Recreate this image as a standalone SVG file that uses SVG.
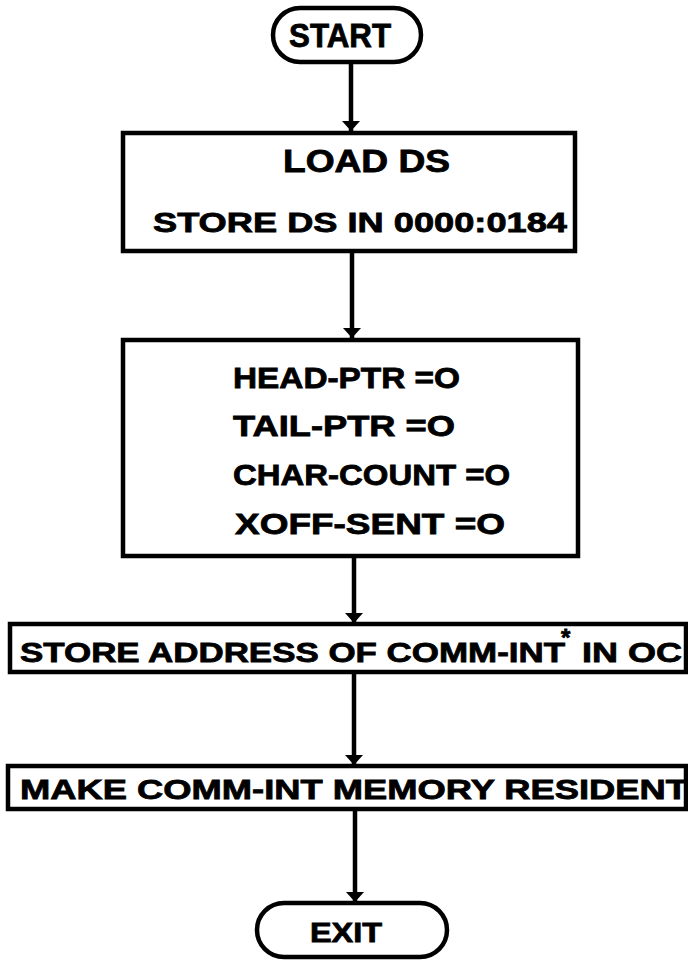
<svg xmlns="http://www.w3.org/2000/svg" width="688" height="965" viewBox="0 0 688 965">
<defs>
<marker id="ah" viewBox="0 0 10 18" refX="10" refY="9" markerWidth="4.4" markerHeight="4" orient="auto" markerUnits="strokeWidth">
<path d="M0,0 L10,9 L0,18 Z" fill="#000"/>
</marker>
</defs>
<style>
.box{fill:#fff;stroke:#000;stroke-width:4.5;stroke-linejoin:miter}
.t{font-family:"Liberation Sans","DejaVu Sans",sans-serif;font-weight:bold;fill:#000;stroke:#000;stroke-width:0.8;text-anchor:start}
.c{stroke:#000;stroke-width:4.5;fill:none}
</style>
<rect width="688" height="965" fill="#fff"/>
<g id="connectors">
<line class="c" x1="351" y1="63" x2="351" y2="131" marker-end="url(#ah)"/>
<line class="c" x1="352" y1="252" x2="352" y2="338" marker-end="url(#ah)"/>
<line class="c" x1="354" y1="557" x2="354" y2="623" marker-end="url(#ah)"/>
<line class="c" x1="354" y1="673" x2="354" y2="765" marker-end="url(#ah)"/>
<line class="c" x1="355" y1="810" x2="355" y2="902" marker-end="url(#ah)"/>
</g>
<g id="start">
<rect class="box" x="273" y="8" width="148" height="54" rx="27"/>
<text class="t" x="289" y="47" font-size="33" textLength="102" lengthAdjust="spacingAndGlyphs">START</text>
</g>
<g id="load">
<rect class="box" x="123" y="133" width="452" height="118"/>
<text class="t" x="283" y="172" font-size="31" textLength="167" lengthAdjust="spacingAndGlyphs">LOAD DS</text>
<text class="t" x="153" y="232" font-size="28" textLength="414" lengthAdjust="spacingAndGlyphs">STORE DS IN  0000:0184</text>
</g>
<g id="init">
<rect class="box" x="123" y="340" width="455" height="216"/>
<text class="t" x="233" y="388" font-size="30" textLength="227" lengthAdjust="spacingAndGlyphs">HEAD-PTR =O</text>
<text class="t" x="233" y="436" font-size="30" textLength="222" lengthAdjust="spacingAndGlyphs">TAIL-PTR =O</text>
<text class="t" x="233" y="485" font-size="30" textLength="277" lengthAdjust="spacingAndGlyphs">CHAR-COUNT =O</text>
<text class="t" x="235" y="534" font-size="30" textLength="270" lengthAdjust="spacingAndGlyphs">XOFF-SENT =O</text>
</g>
<g id="storeaddr">
<rect class="box" x="10" y="624" width="676" height="48"/>
<text class="t" x="20" y="662" font-size="28" textLength="545" lengthAdjust="spacingAndGlyphs">STORE ADDRESS OF COMM-INT</text>
<text class="t" x="561" y="646" font-size="24">*</text>
<text class="t" x="582" y="662" font-size="28" textLength="100" lengthAdjust="spacingAndGlyphs">IN OC</text>
</g>
<g id="resident">
<rect class="box" x="8" y="766" width="678" height="43"/>
<text class="t" x="20" y="799" font-size="28" textLength="668" lengthAdjust="spacingAndGlyphs">MAKE COMM-INT MEMORY RESIDENT</text>
</g>
<g id="exit">
<rect class="box" x="257" y="903" width="190" height="54" rx="27"/>
<text class="t" x="310" y="942" font-size="27" textLength="72" lengthAdjust="spacingAndGlyphs">EXIT</text>
</g>
</svg>
